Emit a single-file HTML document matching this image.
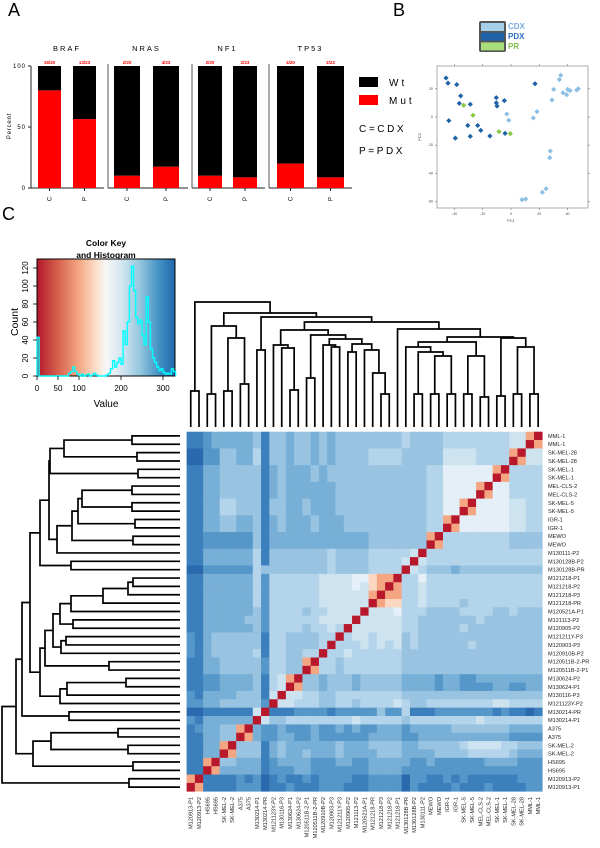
<!DOCTYPE html>
<html><head><meta charset="utf-8"><style>
html,body{margin:0;padding:0;background:#fff;}
svg{display:block;font-family:"Liberation Sans",sans-serif;}
</style></head><body>
<svg id="fig" width="600" height="848" viewBox="0 0 600 848" xmlns="http://www.w3.org/2000/svg">
<g id="panelA"></g>
<g id="panelB"></g>
<g id="panelC"></g>
</svg>
<script>
// ---------- Panel A data ----------
const genes = ["BRAF","NRAS","NF1","TP53"];
const mutC = [80, 10, 10, 20];
const mutP = [56.5, 17.4, 8.7, 8.7];
const countC = ["16/20","2/20","2/20","4/20"];
const countP = ["13/23","4/23","2/23","2/23"];
const percentTicks = [0, 50, 100];

// ---------- Panel B data ----------
const pdxPC1 = [-46,-44.6,-38.4,-35.6,-36.6,-28.8,-44,-30.6,-23.6,-21.4,-39.4,-28.8,-14.9,-10.4,-10.4,-9.9,-4.7,-4.2,17];
const pdxPC2 = [27.7,24,23,15,9.7,9,-2.6,-6,-6,-9.5,-15,-13.7,-13.5,13.7,10,7.8,11.6,-11.6,23.6];
const prPC1 = [-33.5,-26.9,-8.5,-0.5];
const prPC2 = [8.3,1.2,-10.4,-11.8];
const cdxPC1 = [-3,-1.6,15.8,18.4,35.2,34.2,30.2,36.8,39.4,40.1,41.8,46.5,47.6,29,27.8,27.4,24.8,22.2,7.8,10.4];
const cdxPC2 = [2.1,-2.3,-0.7,3.8,29.6,26.5,19.6,17.2,15.8,19.6,18.7,19.1,20,12,-24.1,-28.9,-50.9,-53.4,-58.7,-58.2];
const pcXTicks = [-40,-20,0,20,40];
const pcYTicks = [20,0,-20,-40,-60];

// ---------- Panel C data ----------
const histCounts = [43,0,0,0,0,0,0,0,0,0,0,0,0,0,0,3,5,10,5,2,0,2,0,1,2,0,1,3,1,0,0,0,0,1,3,8,17,10,15,20,13,50,35,60,100,122,95,65,58,62,45,35,88,60,30,20,15,10,6,8,4,2,3,2,8,5];
const histBinWidth = 5;
const keyXTicks = [0,50,100,200,300];
const keyYTicks = [0,20,40,60,80,100,120];
const samples = ["M120913-P1","M120913-P2","HS695","HS695","SK-MEL-2","SK-MEL-2","A375","A375","M130214-P1","M130214-PR","M121123Y-P2","M130116-P3","M130624-P1","M130624-P2","M120511B-2-P1","M120511B-2-PR","M120910B-P2","M120903-P3","M121211Y-P3","M120905-P2","M121113-P2","M120521A-P1","M121218-PR","M121218-P3","M121218-P2","M121218-P1","M130128B-PR","M130128B-P2","M130111-P2","MEWO","MEWO","IGR-1","IGR-1","SK-MEL-5","SK-MEL-5","MEL-CLS-2","MEL-CLS-2","SK-MEL-1","SK-MEL-1","SK-MEL-28","SK-MEL-28","MML-1","MML-1"];
const simLevels = [
"Rp"+"222233"+"31"+"223222333222"+"3333"+"132"+"22232223222233",
"pR"+"222232"+"31"+"232232333322"+"3333"+"133"+"22323222222333",
"22"+"Rp4444"+"42"+"333443333333"+"4444"+"333"+"33333333333333",
"22"+"pR5544"+"42"+"344443334433"+"4444"+"433"+"43333334444333",
"22"+"44Rp55"+"52"+"454454445444"+"4555"+"444"+"45555666665444",
"22"+"44pR55"+"52"+"454444445444"+"5555"+"445"+"55556777766555",
"22"+"4455Rp"+"43"+"344334333333"+"4444"+"334"+"44444444443333",
"23"+"4455pR"+"43"+"343334334343"+"3444"+"344"+"44455555554444",
"32"+"444444"+"R7"+"556666666676"+"6666"+"566"+"66666676666666",
"11"+"222222"+"7R"+"222333323333"+"3533"+"622"+"23333333232212",
"33"+"445555"+"53"+"R77666556656"+"6667"+"655"+"66666666776666",
"32"+"444455"+"52"+"7R7766556666"+"6666"+"555"+"55555555555555",
"22"+"334444"+"52"+"67Rp55455545"+"5555"+"444"+"43443333443344",
"22"+"334444"+"52"+"67pR55455545"+"5555"+"444"+"43443344444444",
"22"+"445555"+"53"+"6655Rp665666"+"6666"+"555"+"55555555555555",
"22"+"445555"+"53"+"6655pR665666"+"6666"+"555"+"55555555555555",
"32"+"455555"+"62"+"665566R66766"+"6666"+"555"+"55555555555555",
"32"+"455555"+"52"+"6655556R6667"+"6767"+"565"+"55555655555555",
"32"+"455555"+"52"+"66555566R677"+"6777"+"565"+"55555555555555",
"22"+"444444"+"53"+"666656676R77"+"7777"+"665"+"55556555555555",
"22"+"444445"+"53"+"6666667777R7"+"7777"+"665"+"55555565555555",
"22"+"444444"+"53"+"66665667777R"+"7778"+"666"+"55556666556555",
"22"+"444444"+"63"+"666666777777"+"Rpqq"+"667"+"66665666666666",
"22"+"444444"+"63"+"666666777777"+"pRpp"+"667"+"66666666666666",
"22"+"444444"+"63"+"666666777787"+"qpRp"+"667"+"66666666666666",
"22"+"444444"+"63"+"666666777788"+"qppR"+"668"+"66666666666666",
"11"+"333333"+"65"+"555555565555"+"6666"+"R76"+"55545555555555",
"22"+"444444"+"62"+"555555565555"+"6666"+"7R7"+"66666666666666",
"22"+"444444"+"62"+"555555565555"+"6666"+"67R"+"66666666666666",
"22"+"333333"+"52"+"444444444444"+"5555"+"555"+"Rp666666665555",
"22"+"333333"+"52"+"444444444444"+"5555"+"555"+"pR666666665555",
"22"+"445544"+"52"+"454445444555"+"5555"+"555"+"66Rp8888887766",
"22"+"445544"+"52"+"454445444555"+"5555"+"555"+"66pR8888887766",
"22"+"446655"+"52"+"554454445555"+"5555"+"555"+"6688Rp88887766",
"22"+"446655"+"52"+"554454445555"+"5555"+"555"+"6688pR88887766",
"22"+"445555"+"52"+"454444445555"+"5555"+"555"+"668888Rp886666",
"22"+"445555"+"52"+"454444445555"+"5555"+"555"+"668888pR886666",
"22"+"445555"+"52"+"454445455555"+"5555"+"555"+"66888888Rp6666",
"22"+"445555"+"52"+"454445455555"+"5555"+"555"+"66888888pR6666",
"11"+"335544"+"62"+"554554545555"+"6666"+"555"+"5577776666Rp77",
"11"+"335544"+"62"+"554554545555"+"6666"+"555"+"5577776666pR77",
"22"+"344444"+"52"+"554554545555"+"5555"+"655"+"556666666677Rp",
"22"+"344444"+"52"+"554554545555"+"5555"+"655"+"556666666677pR"
];
// dendrogram merges: [left, right, height]; number = leaf index, "#k" = merge k
const colMerges = [
[0,1,36],[2,3,33],[4,5,36],[6,7,43],["#2","#3",89],["#1","#4",101],[8,9,77],[12,13,37],[11,"#7",79],[10,"#8",82],
[14,15,49],[17,18,80],[16,"#11",82],[19,20,75],[23,24,33],[22,"#14",54],[21,"#15",77],["#13","#16",83],["#12","#17",88],["#10","#18",92],
["#9","#19",97],[27,28,33],[29,30,33],[31,32,33],["#22","#23",71],["#21","#24",75],[26,"#25",80],[33,34,33],[35,36,30],["#27","#28",71],
["#26","#29",85],[37,38,31],[39,40,33],[41,42,33],["#32","#33",80],["#31","#34",89],["#30","#35",90],[25,"#36",98],["#20","#37",105],["#6","#38",110],
["#5","#39",114],["#0","#40",125]
];
const rowMerges = [
[0,1,48],[2,3,43],["#0","#1",116],[4,5,42],["#2","#3",130],[6,7,48],[8,9,48],["#5","#6",98],[10,11,45],["#7","#8",102],
[12,13,47],["#9","#10",108],["#11",14,123],["#4","#12",131],[15,16,109],["#13","#14",140],[17,18,47],["#16",19,52],["#17",20,77],["#18",21,109],
[22,23,107],["#19","#20",120],[24,25,114],["#22",26,119],["#21","#23",127],[27,28,71],["#24","#25",135],[29,30,54],["#27",31,113],["#28",32,120],
["#26","#29",140],["#15","#30",150],[33,34,111],["#31","#32",158],[35,36,62],[37,38,52],["#34","#35",129],[39,40,47],["#36","#37",147],["#33","#38",164],
[41,42,51],["#39","#40",178]
];

const NS = "http://www.w3.org/2000/svg";
function mk(parent, tag, attrs, text){
  const e = document.createElementNS(NS, tag);
  for (const k in attrs) e.setAttribute(k, attrs[k]);
  if (text !== undefined) e.textContent = String(text);
  parent.appendChild(e);
  return e;
}

// ================= Panel A =================
try{(function(){
  const g = document.getElementById("panelA");
  const t = mk(g,"text",{x:8,y:16,"font-size":18},"A");
   
  const y0 = 188, yScale = v => y0 - v*1.22;
  const panelLeft = [31,108,192,269];
  const barC = [38,114,198,277], barP = [73,153,233,317];
  const barW = [23,26,24,27];
  const ax = mk(g,"line",{x1:31,y1:66,x2:31,y2:188,stroke:"#222","stroke-width":1});
   
  percentTicks.forEach(v=>{
    mk(g,"line",{x1:28,y1:yScale(v),x2:31,y2:yScale(v),stroke:"#222","stroke-width":1});
    const tl = mk(g,"text",{x:26,y:yScale(v)+2,"font-size":6,"text-anchor":"end","letter-spacing":"1"},v);
     
  });
  const yl = mk(g,"text",{x:0,y:0,"font-size":6,"text-anchor":"middle","letter-spacing":"0.8",transform:"translate(11,126) rotate(-90)"},"Percent");
   
  genes.forEach((gene,i)=>{
    const pl = panelLeft[i];
    const right = (i<3 ? panelLeft[i+1]-4 : 352);
    mk(g,"line",{x1:pl,y1:188,x2:right,y2:188,stroke:"#222","stroke-width":1});
    if(i>0) mk(g,"line",{x1:pl,y1:64,x2:pl,y2:188,stroke:"#555","stroke-width":1});
    const tt = mk(g,"text",{x:(barC[i]+barP[i]+barW[i])/2,y:51,"font-size":7.5,"text-anchor":"middle","letter-spacing":"2"},gene);
     
    [[barC[i],mutC[i],countC[i],"C"],[barP[i],mutP[i],countP[i],"P"]].forEach(([bx,m,cnt,lab])=>{
      const wt = mk(g,"rect",{x:bx,y:yScale(100),width:barW[i],height:yScale(m)-yScale(100),fill:"#000"});
       
      const mu = mk(g,"rect",{x:bx,y:yScale(m),width:barW[i],height:y0-yScale(m),fill:"#ff0000"});
       
      const ct = mk(g,"text",{x:bx+barW[i]/2,y:64,"font-size":4.5,"font-weight":"bold",fill:"#ff0000","text-anchor":"middle"},cnt);
       
      mk(g,"line",{x1:bx+barW[i]/2,y1:188,x2:bx+barW[i]/2,y2:191,stroke:"#222","stroke-width":1});
      const xl = mk(g,"text",{x:0,y:0,"font-size":6,"text-anchor":"middle",transform:`translate(${bx+barW[i]/2+2},199) rotate(-90)`},lab);
       
    });
  });
  const lw = mk(g,"rect",{x:359,y:77,width:19,height:10,fill:"#000"});
   
  const lwt = mk(g,"text",{x:389,y:86,"font-size":10,"letter-spacing":"3"},"Wt");
   
  const lm = mk(g,"rect",{x:359,y:95,width:19,height:10,fill:"#ff0000"});
   
  const lmt = mk(g,"text",{x:389,y:104,"font-size":10,"letter-spacing":"3"},"Mut");
   
  const l1 = mk(g,"text",{x:359,y:132,"font-size":10,"letter-spacing":"2.6"},"C=CDX");
   
  const l2 = mk(g,"text",{x:359,y:154,"font-size":10,"letter-spacing":"2.6"},"P=PDX");
   
})();}catch(e){console.error(e);}

// ================= Panel B =================
try{(function(){
  const g = document.getElementById("panelB");
  const t = mk(g,"text",{x:393,y:16,"font-size":18},"B");
   
  const xS = v => 511 + v*1.413, yS = v => 117 - v*1.41;
  const box = mk(g,"rect",{x:437,y:66,width:151,height:142,fill:"none",stroke:"#999","stroke-width":0.8});
   
  pcXTicks.forEach(v=>{
    mk(g,"line",{x1:xS(v),y1:208,x2:xS(v),y2:210,stroke:"#777","stroke-width":0.6});
    mk(g,"line",{x1:xS(v),y1:66,x2:xS(v),y2:64,stroke:"#777","stroke-width":0.6});
    const l = mk(g,"text",{x:xS(v),y:215,"font-size":3.5,"text-anchor":"middle",fill:"#444"},v);
     
  });
  pcYTicks.forEach(v=>{
    mk(g,"line",{x1:437,y1:yS(v),x2:435,y2:yS(v),stroke:"#777","stroke-width":0.6});
    mk(g,"line",{x1:588,y1:yS(v),x2:590,y2:yS(v),stroke:"#777","stroke-width":0.6});
    const l = mk(g,"text",{x:433,y:yS(v)+1,"font-size":3.5,"text-anchor":"end",fill:"#444"},v);
     
  });
  const xt = mk(g,"text",{x:511,y:222,"font-size":4,"text-anchor":"middle",fill:"#444"},"PC1");
   
  const yt = mk(g,"text",{x:0,y:0,"font-size":4,"text-anchor":"middle",fill:"#444",transform:"translate(421,137) rotate(-90)"},"PC2");
   
  function pts(xs,ys,color,name){
    xs.forEach((v,i)=>{
      const c = mk(g,"path",{d:`M${xS(v)},${yS(ys[i])-2.6} l2.6,2.6 l-2.6,2.6 l-2.6,-2.6 z`,fill:color});
       
    });
  }
  pts(cdxPC1,cdxPC2,"#8dc0e4","point-cdx");
  pts(pdxPC1,pdxPC2,"#1e62a8","point-pdx");
  pts(prPC1,prPC2,"#8cc63f","point-pr");
  const lgb = mk(g,"rect",{x:479,y:21,width:27,height:31,fill:"#555",rx:2});
   
  [["#a6cfea","CDX","#7aaee0"],["#1e62a8","PDX","#2a6fc9"],["#a9dd7a","PR","#7fb843"]].forEach((d,i)=>{
    const s = mk(g,"rect",{x:481,y:23+i*9.7,width:23,height:8,fill:d[0]});
     
    const l = mk(g,"text",{x:508,y:29+i*10,"font-size":8,"font-weight":"bold",fill:d[2]},d[1]);
     
  });
})();}catch(e){console.error(e);}

// ================= Panel C =================
try{(function(){
  const g = document.getElementById("panelC");
  const t = mk(g,"text",{x:2,y:220,"font-size":18},"C");
   
  const defs = mk(g,"defs",{});
  const grad = mk(defs,"linearGradient",{id:"rdbu",x1:"0",y1:"0",x2:"1",y2:"0"});
  [[0,"#b2182b"],[0.15,"#d6604d"],[0.3,"#f4a582"],[0.42,"#fddbc7"],[0.5,"#f7f7f7"],[0.62,"#d1e5f0"],[0.75,"#92c5de"],[0.88,"#4393c3"],[1,"#2166ac"]].forEach(s=>mk(grad,"stop",{offset:s[0],"stop-color":s[1]}));
  const kx = v => 37 + v*0.42, ky = v => 376 - v*0.9;
  const kb = mk(g,"rect",{x:37,y:259,width:138,height:117,fill:"url(#rdbu)",stroke:"#000","stroke-width":1});
   
  let d = `M${kx(0)},${ky(0)}`;
  histCounts.forEach((c,i)=>{ d += ` L${kx(i*histBinWidth)},${ky(c)} L${kx((i+1)*histBinWidth)},${ky(c)}`; });
  d += ` L${kx(histCounts.length*histBinWidth)},${ky(0)}`;
  const hp = mk(g,"path",{d:d,fill:"none",stroke:"#00ffff","stroke-width":1.4});
   
  const kt1 = mk(g,"text",{x:106,y:246,"font-size":8.5,"font-weight":"bold","text-anchor":"middle"},"Color Key");
   
  const kt2 = mk(g,"text",{x:106,y:258,"font-size":8.5,"font-weight":"bold","text-anchor":"middle"},"and Histogram");
   
  keyXTicks.forEach(v=>{
    mk(g,"line",{x1:kx(v),y1:376,x2:kx(v),y2:380,stroke:"#000","stroke-width":0.8});
    const l = mk(g,"text",{x:kx(v),y:391,"font-size":8,"text-anchor":"middle"},v);
     
  });
  keyYTicks.forEach(v=>{
    mk(g,"line",{x1:37,y1:ky(v),x2:33,y2:ky(v),stroke:"#000","stroke-width":0.8});
    const l = mk(g,"text",{x:0,y:0,"font-size":8,"text-anchor":"middle",transform:`translate(28,${ky(v)}) rotate(-90)`},v);
     
  });
  const vl = mk(g,"text",{x:106,y:407,"font-size":10,"text-anchor":"middle"},"Value");
   
  const cl = mk(g,"text",{x:0,y:0,"font-size":10.5,"text-anchor":"middle",transform:"translate(18,322) rotate(-90)"},"Count");
   

  const n = samples.length;
  const hx0 = 186.6, hy0 = 431.7, cw = 355.7/n, ch = 359.6/n;
  const pal = {"1":"#2a69ad","2":"#3b80bd","3":"#5597c9","4":"#77afd7","5":"#98c3e1","6":"#b3d4ea","7":"#cde3f0","8":"#e4eff7","R":"#b8182b","p":"#f4a582","q":"#fbd6c1"};
  const hm = mk(g,"g",{});
   
  for(let r=0;r<n;r++){
    const s = n-1-r;
    const str = simLevels[s] || "";
    for(let c=0;c<n;c++){
      const cell = mk(hm,"rect",{x:(hx0+c*cw).toFixed(2),y:(hy0+r*ch).toFixed(2),width:(cw+0.3).toFixed(2),height:(ch+0.3).toFixed(2),fill:pal[str[c]]||"#98c3e1"});
      
      
    }
    const rl = mk(g,"text",{x:548,y:(hy0+(r+0.5)*ch+2).toFixed(2),"font-size":5.6,fill:"#222"},samples[s]);
     
  }
  for(let c=0;c<n;c++){
    const xl = mk(g,"text",{x:0,y:0,"font-size":5.6,fill:"#222","text-anchor":"end",transform:`translate(${(hx0+(c+0.5)*cw+2).toFixed(2)},797) rotate(-90)`},samples[c]);
     
  }
  const dg = mk(g,"g",{stroke:"#000","stroke-width":1.7,fill:"none"});
   
  function drawTree(merges, leafPos, toPath, name){
    const done = [];
    function get(ref){
      if(typeof ref === "number") return {p:leafPos(ref), h:0};
      return done[parseInt(ref.slice(1),10)];
    }
    merges.forEach((m,i)=>{
      const a = get(m[0]), b = get(m[1]), h = m[2];
      const pth = mk(dg,"path",{d:toPath(a,b,h)});
      
      
      done[i] = {p:(a.p+b.p)/2, h:h};
    });
  }
  const Yc = v => 427 - v;
  drawTree(colMerges, i => hx0+(i+0.5)*cw, (a,b,h)=>`M${a.p},${Yc(a.h)} V${Yc(h)} H${b.p} V${Yc(b.h)}`, 'column-dendrogram-branch');
  const Xr = v => 180 - v;
  drawTree(rowMerges, i => hy0+(i+0.5)*ch, (a,b,h)=>`M${Xr(a.h)},${a.p} H${Xr(h)} V${b.p} H${Xr(b.h)}`, 'row-dendrogram-branch');
})();}catch(e){console.error(e);}
</script>
</body></html>
